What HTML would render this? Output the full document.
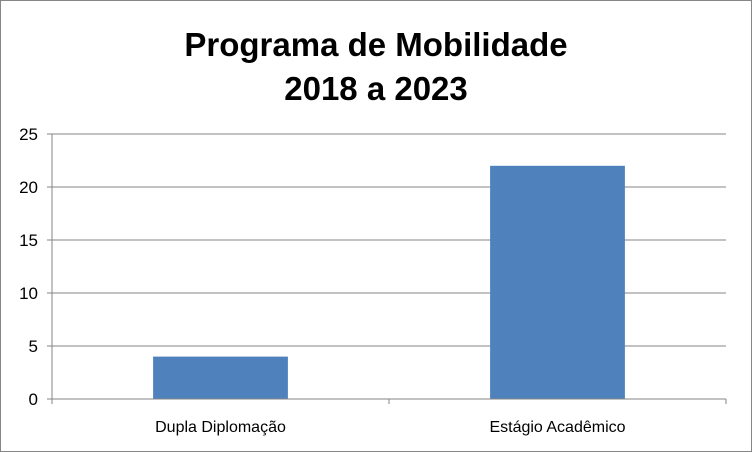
<!DOCTYPE html>
<html><head><meta charset="utf-8"><style>
html,body{margin:0;padding:0;background:#fff;}
svg{display:block;font-family:"Liberation Sans","DejaVu Sans",sans-serif;}
</style></head><body>
<svg id="chart" width="752" height="452" viewBox="0 0 752 452">
<rect x="0.5" y="0.5" width="751" height="451" fill="#fff" stroke="#868686"/>
<text x="376" y="56" text-anchor="middle" font-size="33" font-weight="bold" fill="#000">Programa de Mobilidade</text>
<text x="376" y="100" text-anchor="middle" font-size="33" font-weight="bold" fill="#000">2018 a 2023</text>
<g id="grid"></g>
<g id="bars"></g>
<g id="axes"></g>
</svg>
<script>
const categories = ["Dupla Diplomação", "Estágio Acadêmico"];
const values = [4, 22];
const yTicks = [0, 5, 10, 15, 20, 25];

const NS = "http://www.w3.org/2000/svg";
const plotLeft = 52, plotRight = 726, plotTop = 134, plotBottom = 399;
const yMax = 25;
const yScale = v => plotBottom - (v / yMax) * (plotBottom - plotTop);
const band = (plotRight - plotLeft) / categories.length;
const xScale = i => plotLeft + band * i;

function mk(tag, attrs, parent) {
  const e = document.createElementNS(NS, tag);
  for (const k in attrs) e.setAttribute(k, attrs[k]);
  parent.appendChild(e);
  return e;
}
const grid = document.getElementById('grid');
const bars = document.getElementById('bars');
const axes = document.getElementById('axes');

yTicks.forEach(t => {
  if (t > 0) {
    const l = mk('line', {x1: plotLeft, x2: plotRight, y1: yScale(t), y2: yScale(t), stroke: '#868686', 'stroke-width': 1}, grid);
    
    
  }
  const tk = mk('line', {x1: plotLeft - 5, x2: plotLeft, y1: yScale(t), y2: yScale(t), stroke: '#868686'}, axes);
  
  
  const tx = mk('text', {x: 38, y: yScale(t) + 6, 'text-anchor': 'end', 'font-size': 17, fill: '#000'}, axes);
  tx.textContent = t;
  
  
});

values.forEach((v, i) => {
  const bw = band * 0.4;
  const r = mk('rect', {x: xScale(i) + (band - bw) / 2, y: yScale(v), width: bw, height: plotBottom - yScale(v), fill: '#4f81bd'}, bars);
  
  
  const lb = mk('text', {x: xScale(i) + band / 2, y: 432, 'text-anchor': 'middle', 'font-size': 16, fill: '#000'}, axes);
  lb.textContent = categories[i];
  
  
});
for (let i = 0; i <= categories.length; i++) {
  const tk = mk('line', {x1: xScale(i), x2: xScale(i), y1: plotBottom, y2: plotBottom + 5, stroke: '#868686'}, axes);
  
  
}
const ya = mk('line', {x1: plotLeft, x2: plotLeft, y1: plotTop, y2: plotBottom, stroke: '#868686'}, axes);


const xa = mk('line', {x1: plotLeft, x2: plotRight, y1: plotBottom, y2: plotBottom, stroke: '#868686'}, axes);


</script>
</body></html>
